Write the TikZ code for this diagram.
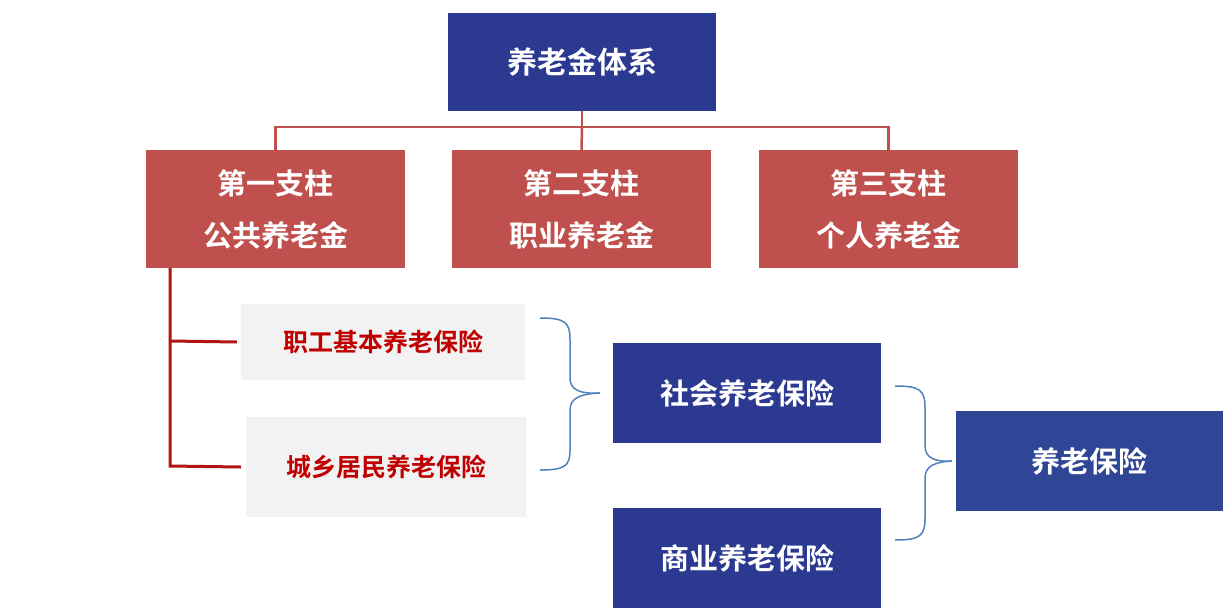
\documentclass[tikz,border=0pt]{standalone}
\usepackage{fontspec}
\setmainfont{Noto Sans CJK SC}[BoldFont={Noto Sans CJK SC Bold}]
\begin{document}
\begin{tikzpicture}[x=1pt,y=-1pt,
 box/.style={draw=none,inner sep=0pt,font=\bfseries,text=white,align=center},
 blue/.style={box,fill={rgb,255:red,43;green,57;blue,144}},
 red/.style={box,fill={rgb,255:red,192;green,80;blue,77},font=\fontsize{29}{52}\bfseries},
 gray/.style={box,fill={rgb,255:red,242;green,242;blue,242},text={rgb,255:red,192;green,0;blue,0},font=\fontsize{25}{30}\bfseries},
 rl/.style={draw={rgb,255:red,192;green,80;blue,77},line width=2.5pt},
 dl/.style={draw={rgb,255:red,176;green,20;blue,20},line width=3pt},
 br/.style={draw={rgb,255:red,79;green,129;blue,189},line width=1.5pt}]
\useasboundingbox (0,0) rectangle (1228,613);
\node[blue,minimum width=268,minimum height=98,font=\fontsize{30}{36}\bfseries] (top) at (582,62) {养老金体系};
\node[red,minimum width=259,minimum height=118] (p1) at (275.5,209) {第一支柱\\公共养老金};
\node[red,minimum width=259,minimum height=118] (p2) at (581.5,209) {第二支柱\\职业养老金};
\node[red,minimum width=259,minimum height=118] (p3) at (888.5,209) {第三支柱\\个人养老金};
\coordinate (j) at (582,127);
\draw[rl] (top.south) -- (j);
\draw[rl] (p1.north) -- (p1.north |- j) -- (p3.north |- j) -- (p3.north);
\draw[rl] (j) -- (p2.north);
\node[gray,minimum width=284,minimum height=76] (g1) at (383,342) {职工基本养老保险};
\node[gray,minimum width=280,minimum height=100] (g2) at (386,467) {城乡居民养老保险};
\coordinate (d0) at (170,268);
\draw[dl] (d0) -- (170,466) -- ([xshift=-5pt]g2.west);
\draw[dl] (170,341) -- ([xshift=-4pt]g1.west);
\node[blue,minimum width=268,minimum height=100,font=\fontsize{29}{36}\bfseries] (s1) at (747,393) {社会养老保险};
\node[blue,minimum width=268,minimum height=100,font=\fontsize{29}{36}\bfseries] (s2) at (747,558) {商业养老保险};
\node[blue,fill={rgb,255:red,47;green,69;blue,150},minimum width=267,minimum height=100,font=\fontsize{29}{36}\bfseries] (ya) at (1089.5,461) {养老保险};
\coordinate (b1) at (540,318); \coordinate (b2) at (540,470);
\draw[br] (b1) .. controls (565,318) and (570,322) .. (570,340) -- (570,378) .. controls (570,390) and (580,394) .. ([xshift=-13pt]s1.west);
\draw[br] (b2) .. controls (565,470) and (570,466) .. (570,450) -- (570,410) .. controls (570,398) and (580,394) .. ([xshift=-13pt]s1.west);
\coordinate (c1) at (895,386); \coordinate (c2) at (895,540);
\draw[br] (c1) .. controls (920,386) and (925,390) .. (925,408) -- (925,446) .. controls (925,458) and (935,462) .. ([xshift=-4pt]ya.west);
\draw[br] (c2) .. controls (920,540) and (925,536) .. (925,518) -- (925,478) .. controls (925,466) and (935,462) .. ([xshift=-4pt]ya.west);
\end{tikzpicture}
\end{document}
